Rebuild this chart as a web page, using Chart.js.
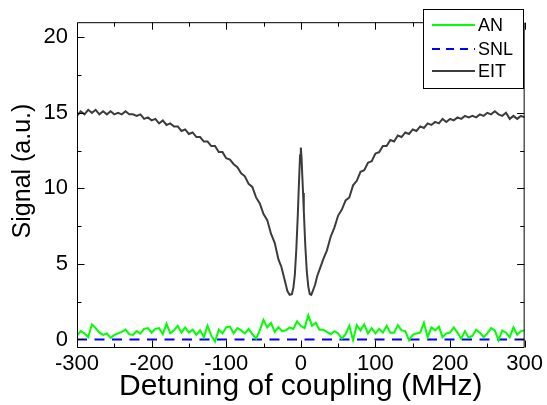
<!DOCTYPE html>
<html><head><meta charset="utf-8">
<script src="https://cdn.jsdelivr.net/npm/chart.js@4.4.0/dist/chart.umd.min.js"></script>
<style>html,body{margin:0;padding:0;background:#fff}#wrap{width:547px;height:405px}</style>
</head><body><div id="wrap"><canvas id="c" width="547" height="405"></canvas></div>
<script>
// ---- data ----
const seriesNames = ["AN", "SNL", "EIT"];
const xTickLabels = [-300, -200, -100, 0, 100, 200, 300];
const xMinorTicks = [-250, -150, -50, 50, 150, 250];
const yTickLabels = [0, 5, 10, 15, 20];
const yMinorTicks = [2.5, 7.5, 12.5, 17.5];

const anX = [-300,-295,-290,-285,-280,-275,-270,-265,-260,-255,-250,-245,-240,-235,-230,-225,-220,-215,-210,-205,-200,-195,-190,-185,-180,-175,-170,-165,-160,-155,-150,-145,-140,-135,-130,-125,-120,-115,-110,-105,-100,-95,
-90,-85,-80,-75,-70,-65,-60,-55,-50,-45,-40,-35,-30,-25,-20,-15,-10,-5,0,5,10,15,20,25,30,35,40,45,50,55,60,65,70,75,80,85,90,95,
100,105,110,115,120,125,130,135,140,145,150,155,160,165,170,175,180,185,190,195,200,205,210,215,220,225,230,235,240,245,250,255,260,265,270,275,280,285,290,295,300];
const anY = [0.25,0.55,0.4,0.15,1.0,0.75,0.45,0.3,0.4,0.1,0.3,0.4,0.5,0.65,0.35,0.3,0.55,0.4,0.7,0.75,0.45,0.7,0.75,0.35,1.05,0.4,0.6,0.9,0.45,0.8,0.45,0.65,0.3,0.6,0.15,0.9,0.25,-0.15,0.65,0.4,0.8,0.85,
0.4,0.75,0.6,0.4,0.7,0.35,0.05,0.6,1.3,0.8,1.1,0.5,0.8,0.55,0.6,0.8,0.7,1.2,0.9,0.75,1.6,0.9,1.1,0.65,0.65,0.5,0.35,0.55,0.4,0.05,0.35,0.9,-0.05,0.95,0.6,1.0,0.4,0.75,
0.4,0.7,0.45,0.9,0.45,0.45,0.95,0.6,0.55,-0.05,0.3,0.4,0.45,1.1,0.15,0.8,0.6,0.85,0.15,0.4,0.45,0.8,0.45,0.05,0.55,0.1,0.25,0.65,0.45,0.15,0.4,0.75,0.6,-0.05,0.6,0.45,0.15,0.8,0.3,0.55,0.6];

const snlX = [-300, 300];
const snlY = [0, 0];

const eitX = [-300,-295,-290,-285,-280,-275,-270,-265,-260,-255,-250,-245,-240,-235,-230,-225,-220,-215,-210,-205,-200,-195,-190,-185,-180,-175,-170,-165,-160,-155,-150,-145,-140,-135,-130,-125,-120,-115,-110,-105,-100,-95,-90,-85,-80,-75,-70,-65,-60,-55,-50,-45,-40,-35,-30,
-26,-22,-18,-15,-12,-10,-8,-6,-4,-3,-2,-1,0,1,2,3,4,6,8,10,12,14,16,19,22,
25,30,35,40,45,50,55,60,65,70,75,80,85,90,95,100,105,110,115,120,125,130,135,140,145,150,155,160,165,170,175,180,185,190,195,200,205,210,215,220,225,230,235,240,245,250,255,260,265,270,275,280,285,290,295,300];
const eitY = [14.8,15.1,14.9,15.2,15.0,15.2,14.9,15.1,14.9,15.1,
14.9,15.0,14.9,15.1,14.9,14.9,14.8,14.9,14.6,14.7,
14.5,14.6,14.3,14.5,14.2,14.3,14.1,14.1,13.8,13.9,
13.6,13.7,13.4,13.4,13.1,13.1,12.8,12.8,12.4,12.4,
12.0,11.9,11.6,11.4,11.0,10.8,10.3,10.1,9.4,9.0,
8.3,7.9,7.0,6.4,5.3,
4.8,4.0,3.2,2.95,3.0,3.4,4.3,6.0,8.3,9.7,11.0,12.2,12.7,12.0,10.8,9.7,8.5,6.2,4.5,3.5,3.0,2.95,3.2,3.6,4.2,
4.6,5.3,5.9,6.8,7.4,8.2,8.6,9.2,9.4,10.2,
10.5,11.1,11.2,11.7,11.8,12.3,12.4,12.8,12.8,13.2,
13.1,13.5,13.4,13.7,13.6,13.9,13.8,14.1,14.0,14.3,
14.2,14.4,14.3,14.6,14.4,14.6,14.5,14.7,14.6,14.8,
14.7,14.8,14.7,14.9,14.8,15.0,14.9,15.1,14.9,14.8,
15.0,14.6,14.8,14.6,14.8,14.7];

const FONT = "'Liberation Sans', Arial, sans-serif";
const pts = (xs, ys) => xs.map((x, i) => ({x: x, y: ys[i]}));

const framePlugin = {
  id: 'frame',
  afterDatasetsDraw(chart) {
    const {ctx, chartArea: a, scales: {x, y}} = chart;
    ctx.save();
    ctx.strokeStyle = '#000';
    ctx.lineWidth = 1;
    const L = a.left + 0.5, R = a.right - 0.5, T = a.top + 0.5, B = a.bottom + 0.5;
    ctx.beginPath();
    ctx.rect(L, T, R - L, B - T);
    ctx.stroke();
    ctx.beginPath();
    const xt = (v, len) => {
      const p = Math.round(x.getPixelForValue(v)) + 0.5;
      ctx.moveTo(p, B); ctx.lineTo(p, B - len);
      ctx.moveTo(p, T); ctx.lineTo(p, T + len);
    };
    const yt = (v, len) => {
      const p = Math.round(y.getPixelForValue(v)) + 0.5;
      ctx.moveTo(L, p); ctx.lineTo(L + len, p);
      ctx.moveTo(R, p); ctx.lineTo(R - len, p);
    };
    xTickLabels.forEach(v => xt(v, 7));
    xMinorTicks.forEach(v => xt(v, 4));
    yTickLabels.forEach(v => yt(v, 7));
    yMinorTicks.forEach(v => yt(v, 4));
    ctx.stroke();
    ctx.restore();
  },
  afterDraw(chart) {
    const {ctx} = chart;
    ctx.save();
    // y axis title
    ctx.fillStyle = '#000';
    ctx.font = '25px ' + FONT;
    ctx.textAlign = 'center';
    ctx.textBaseline = 'middle';
    ctx.translate(23, 171);
    ctx.rotate(-Math.PI / 2);
    ctx.fillText('Signal (a.u.)', 0, 0);
    ctx.restore();
    // legend box
    ctx.save();
    const bx = 423.5, by = 9.5, bw = 100, bh = 79;
    ctx.fillStyle = '#fff';
    ctx.fillRect(bx, by, bw, bh);
    ctx.strokeStyle = '#000';
    ctx.lineWidth = 1;
    ctx.strokeRect(bx, by, bw, bh);
    const rows = [25, 49, 71];
    chart.data.datasets.forEach((ds, i) => {
      const yy = rows[i];
      ctx.beginPath();
      ctx.strokeStyle = ds.borderColor;
      ctx.lineWidth = ds.borderWidth;
      ctx.setLineDash(ds.legendDash || []);
      ctx.moveTo(432, yy); ctx.lineTo(475, yy);
      ctx.stroke();
      ctx.setLineDash([]);
      ctx.fillStyle = '#000';
      ctx.font = '18px ' + FONT;
      ctx.textAlign = 'left';
      ctx.textBaseline = 'middle';
      ctx.fillText(ds.label, 478, yy + 1);
    });
    ctx.restore();
  }
};

new Chart(document.getElementById('c'), {
  type: 'line',
  data: {
    datasets: [
      {label: seriesNames[0], data: pts(anX, anY), borderColor: '#00ff00', borderWidth: 2, pointRadius: 0, tension: 0},
      {label: seriesNames[1], data: pts(snlX, snlY), borderColor: '#0000ff', borderWidth: 2, borderDash: [10, 7.5], legendDash: [8, 6], pointRadius: 0, tension: 0},
      {label: seriesNames[2], data: pts(eitX, eitY), borderColor: '#3c3c3c', borderWidth: 2, pointRadius: 0, tension: 0}
    ]
  },
  options: {
    responsive: false,
    animation: false,
    devicePixelRatio: 1,
    layout: {padding: {top: 14, right: 20, left: 0, bottom: 0}},
    plugins: {legend: {display: false}, tooltip: {enabled: false}},
    scales: {
      x: {
        type: 'linear', min: -300, max: 300,
        grid: {display: false, drawTicks: false},
        border: {display: false},
        afterBuildTicks: s => { s.ticks = xTickLabels.map(v => ({value: v})); },
        afterFit: s => { s.height = 58; },
        ticks: {color: '#000', font: {size: 22, family: FONT}, padding: 4, autoSkip: false, maxRotation: 0},
        title: {display: true, text: 'Detuning of coupling (MHz)', color: '#000', font: {size: 30, family: FONT}, padding: 0}
      },
      y: {
        type: 'linear', min: -0.5, max: 21.0,
        grid: {display: false, drawTicks: false},
        border: {display: false},
        afterBuildTicks: s => { s.ticks = yTickLabels.map(v => ({value: v})); },
        afterFit: s => { s.width = 77; },
        ticks: {color: '#000', font: {size: 22, family: FONT}, padding: 9},
        title: {display: false}
      }
    }
  },
  plugins: [framePlugin]
});
</script>
</body></html>
